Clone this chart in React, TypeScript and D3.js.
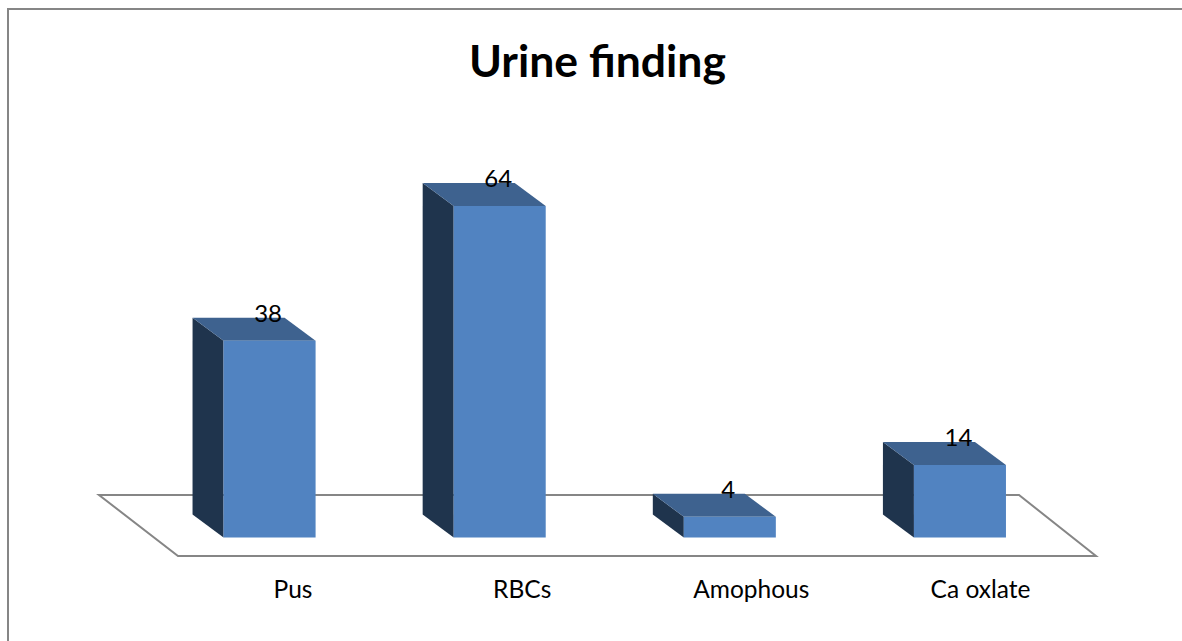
import React from "react";
import * as d3 from "d3";

const categories = ["Pus", "RBCs", "Amophous", "Ca oxlate"];
const values = [38, 64, 4, 14];
const title = "Urine finding";

const W = 1182, H = 641;
const font = "Lato, 'Open Sans', sans-serif";
const baseY = 537.5;
const depthX = -31, depthY = -23;

const x = d3.scaleBand<string>().domain(categories).range([154.5, 1075]).paddingInner(0.6).paddingOuter(0.3);
const labelX = d3.scalePoint<string>().domain(categories).range([293, 980.5]);
const y = d3.scaleLinear().domain([0, 64]).range([baseY, 206]);

const poly = d3.line<[number, number]>().x((d) => d[0]).y((d) => d[1]);
const closed = (pts: [number, number][]) => poly(pts) + "Z";

export default function App() {
  return (
    <svg width={W} height={H} style={{ position: "absolute", left: 0, top: 0, background: "#fff" }}>
      <path d="M8,641V9H1182" fill="none" stroke="#868686" strokeWidth={2} />
      <path d={closed([[99, 495], [1019, 495], [1096, 556], [178, 556]])} fill="none" stroke="#868686" strokeWidth={2} />
      <text x={597.5} y={77} textAnchor="middle" fontFamily={font} fontSize={44.5} fontWeight={700} fill="#000">{title}</text>
      {categories.map((c, i) => {
        const l = x(c)!, r = l + x.bandwidth(), t = y(values[i]), b = baseY;
        return (
          <g key={c}>
            <path d={closed([[l, t], [l + depthX, t + depthY], [l + depthX, b + depthY], [l, b]])} fill="#1F344D" />
            <path d={closed([[l, t], [r, t], [r + depthX, t + depthY], [l + depthX, t + depthY]])} fill="#3E628F" />
            <rect x={l} y={t} width={x.bandwidth()} height={b - t} fill="#5183C1" />
            <text x={l + x.bandwidth() / 2 - 1.5} y={t + depthY + 4} textAnchor="middle" fontFamily={font} fontSize={24} fill="#000">{values[i]}</text>
            <text x={labelX(c)!} y={598} textAnchor="middle" fontFamily={font} fontSize={24.5} fill="#000">{c}</text>
          </g>
        );
      })}
    </svg>
  );
}
